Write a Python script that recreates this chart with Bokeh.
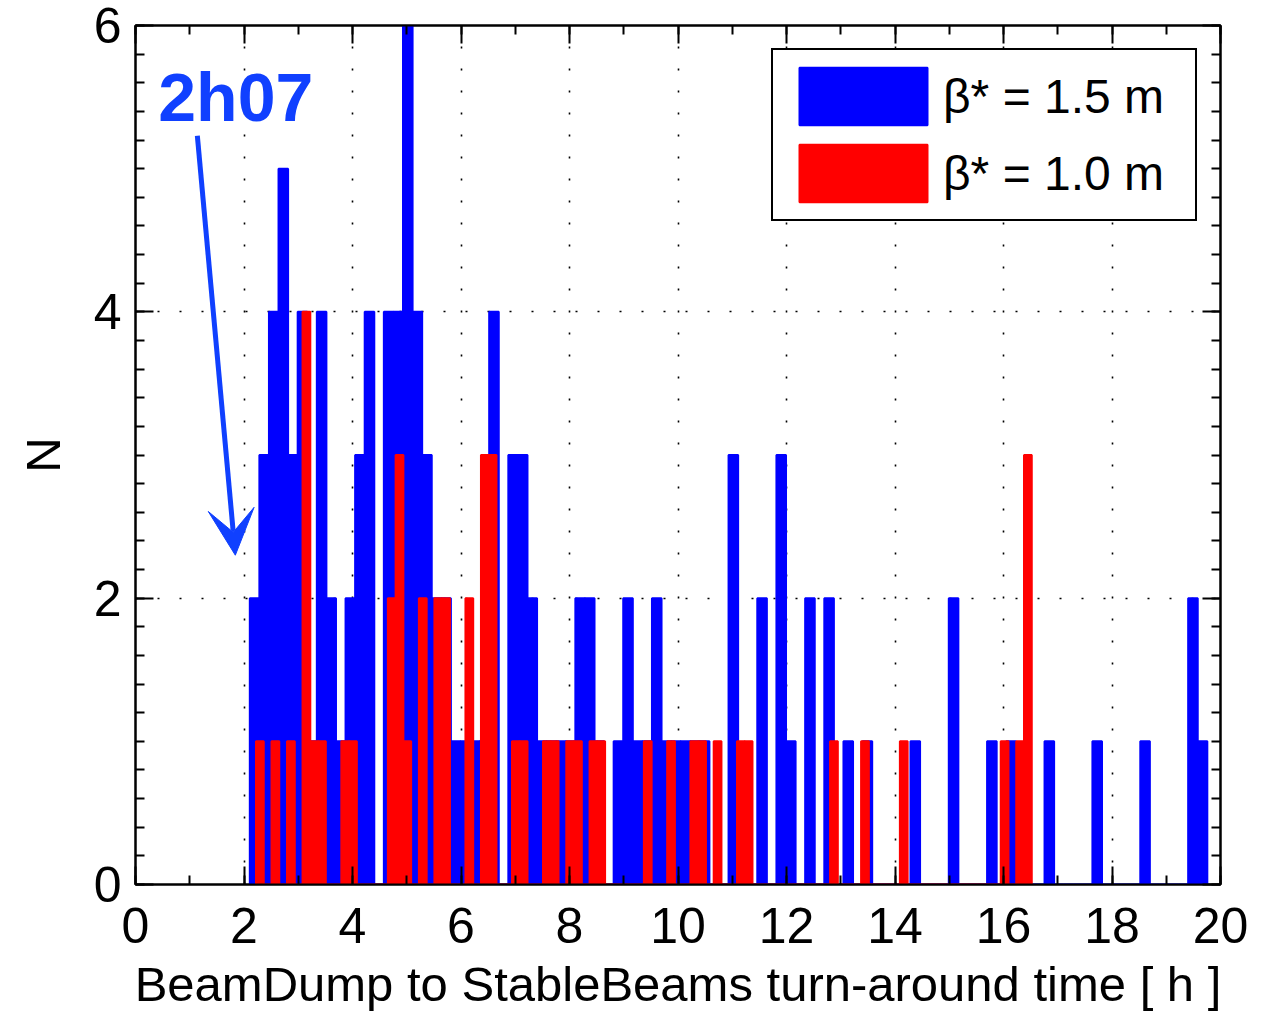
from bokeh.plotting import figure
from bokeh.models import (Range1d, LinearAxis, SingleIntervalTicker, Legend, LegendItem,
                          Label, Arrow, VeeHead, ColumnDataSource, CustomJSTickFormatter)
from bokeh.embed import file_html
from bokeh.resources import INLINE

# ---- data (histograms) ----
blue_start = 2.107      # h, first bin edge (beta* = 1.5 m)
blue_width = 0.1765     # h, bin width
blue_counts = [2, 3, 4, 5, 3, 4, 1, 4, 2, 1,
               2, 3, 4, 0, 4, 4, 6, 4, 3, 2,
               2, 1, 1, 1, 1, 4, 0, 3, 3, 2,
               1, 1, 1, 1, 2, 2, 1, 0, 1, 2,
               1, 1, 2, 1, 1, 1, 1, 1, 0, 0,
               3, 0, 0, 2, 0, 3, 1, 0, 2, 0,
               2, 0, 1, 0, 1, 0, 0, 0, 0, 1,
               0, 0, 0, 2, 0, 0, 0, 1, 0, 1,
               0, 0, 0, 1, 0, 0, 0, 0, 1, 0,
               0, 0, 0, 1, 0, 0, 0, 0, 2, 1]

red_start = 2.221       # h, first bin edge (beta* = 1.0 m)
red_width = 0.1430      # h, bin width
red_counts = [1, 0, 1, 0, 1, 0, 4, 1, 1, 0,
              0, 1, 1, 0, 0, 0, 0, 2, 3, 1,
              0, 2, 0, 2, 2, 0, 0, 2, 0, 3,
              3, 0, 0, 1, 1, 0, 0, 1, 1, 0,
              1, 1, 0, 1, 1, 0, 0, 0, 0, 0,
              1, 0, 0, 1, 0, 0, 1, 1, 0, 1,
              0, 0, 1, 1, 0, 0, 0, 0, 0, 0,
              0, 0, 0, 0, 1, 0, 0, 0, 1, 0,
              0, 0, 0, 1, 0, 0, 0, 0, 0, 0,
              0, 0, 0, 0, 0, 0, 1, 0, 1, 3]

legend_labels = ["\u03b2* = 1.5 m", "\u03b2* = 1.0 m"]
x_label = "BeamDump to StableBeams turn-around time [ h ]"
y_label = "N"
note_text = "2h07"

FONT = "Liberation Sans"
BLUE = "#0000ff"
RED = "#ff0000"
NOTE = "#1040ff"


def hist_source(start, width, counts):
    left = [start + i * width for i in range(len(counts))]
    right = [l + width for l in left]
    return ColumnDataSource(dict(left=left, right=right, top=counts,
                                 bottom=[0] * len(counts)))


p = figure(frame_width=1085, frame_height=859,
           min_border_left=135, min_border_right=54, min_border_top=25, min_border_bottom=129,
           x_range=Range1d(0, 20), y_range=Range1d(0, 6),
           output_backend="svg", toolbar_location=None)
p.background_fill_color = "white"
p.border_fill_color = "white"
p.outline_line_color = "black"
p.outline_line_width = 2

xt = SingleIntervalTicker(interval=2, num_minor_ticks=2)
yt = SingleIntervalTicker(interval=2, num_minor_ticks=10)

for ax, tk in ((p.xaxis[0], xt), (p.yaxis[0], yt)):
    ax.ticker = tk
    ax.major_tick_in = 18
    ax.major_tick_out = 0
    ax.minor_tick_in = 9
    ax.minor_tick_out = 0
    ax.major_tick_line_width = 2
    ax.minor_tick_line_width = 2
    ax.axis_line_width = 2
    ax.major_label_text_font = FONT
    ax.major_label_text_font_size = "50px"
    ax.major_label_text_color = "black"
    ax.axis_label_text_font = FONT
    ax.axis_label_text_font_size = "49px"
    ax.axis_label_text_font_style = "normal"
    ax.axis_label_text_color = "black"

p.xaxis[0].axis_label = x_label
p.xaxis[0].major_label_standoff = 23
p.xaxis[0].axis_label_standoff = 11
p.yaxis[0].axis_label = y_label
p.yaxis[0].major_label_standoff = 14
p.yaxis[0].axis_label_standoff = 21

blank = CustomJSTickFormatter(code="return ''")
for loc, tk in (("right", yt), ("above", xt)):
    ax = LinearAxis(ticker=tk, formatter=blank, major_tick_in=18, major_tick_out=0,
                    minor_tick_in=9, minor_tick_out=0,
                    major_tick_line_width=2, minor_tick_line_width=2,
                    axis_line_width=2, major_label_standoff=0)
    p.add_layout(ax, loc)

for g, tk in ((p.xgrid[0], xt), (p.ygrid[0], yt)):
    g.ticker = tk
    g.grid_line_color = "black"
    g.grid_line_width = 1.6
    g.grid_line_dash = "2 20"

sb = hist_source(blue_start, blue_width, blue_counts)
sr = hist_source(red_start, red_width, red_counts)
rb = p.quad(left="left", right="right", top="top", bottom="bottom", source=sb,
            fill_color=BLUE, line_color=BLUE, line_width=2)
rr = p.quad(left="left", right="right", top="top", bottom="bottom", source=sr,
            fill_color=RED, line_color=RED, line_width=2)

legend = Legend(items=[LegendItem(label=legend_labels[0], renderers=[rb]),
                       LegendItem(label=legend_labels[1], renderers=[rr])],
                location="top_right", margin=23, padding=10, spacing=5,
                glyph_width=160, glyph_height=72, label_standoff=0, label_width=242,
                label_text_font=FONT, label_text_font_size="48px", label_text_color="black",
                border_line_color="black", border_line_width=2, border_line_alpha=1.0,
                background_fill_color="white", background_fill_alpha=1.0)
p.add_layout(legend)

# annotation 2h07 with arrow
p.add_layout(Label(x=0.42, y=5.50, text=note_text, text_font=FONT, text_font_size="68px",
                   text_font_style="bold", text_color=NOTE, text_baseline="alphabetic"))
p.add_layout(Arrow(end=VeeHead(size=46, fill_color=NOTE, line_color=NOTE, line_width=1),
                   x_start=1.14, y_start=5.23, x_end=1.84, y_end=2.30,
                   line_color=NOTE, line_width=5))

open("out.html", "w").write(file_html(p, INLINE))
